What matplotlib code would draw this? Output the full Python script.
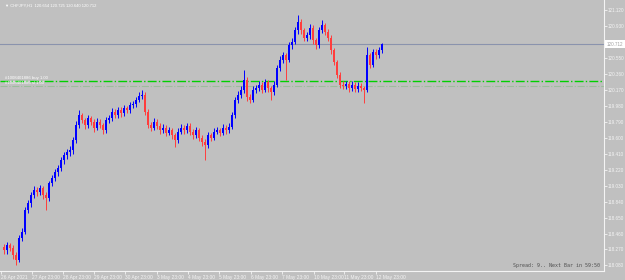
import matplotlib
matplotlib.use("Agg")
import matplotlib.pyplot as plt
import matplotlib.transforms as mtransforms

# chart header / status text
SYMBOL = "CHFJPY,H1"
HEADER_OHLC = "120.654 120.725 120.640 120.712"
STATUS = "Spread: 9.. Next Bar in 59:50"
ORDER_LABELS = ["#1008401886 buy 1.00", "#1008401886 sl 1.00"]
ORDER_LEVELS = [120.275, 120.215]
LAST_PRICE = 120.712

# candles (one per ~3 hours)
opens = [118.30, 118.26, 118.32, 118.29, 118.20, 118.15, 118.41, 118.48, 118.74, 118.82,
         118.92, 118.98, 118.95, 119.00, 118.92, 118.88, 119.06, 119.12, 119.19, 119.24,
         119.33, 119.39, 119.43, 119.45, 119.57, 119.75, 119.87, 119.81, 119.75, 119.83,
         119.79, 119.72, 119.79, 119.75, 119.69, 119.81, 119.83, 119.91, 119.87, 119.93,
         119.89, 119.95, 119.93, 119.99, 120.00, 120.05, 120.10, 120.11, 119.91, 119.75,
         119.72, 119.79, 119.74, 119.69, 119.72, 119.66, 119.69, 119.63, 119.57, 119.67,
         119.72, 119.69, 119.74, 119.67, 119.63, 119.69, 119.60, 119.55, 119.51, 119.63,
         119.60, 119.67, 119.69, 119.66, 119.72, 119.69, 119.73, 119.87, 120.05, 120.11,
         120.17, 120.29, 120.08, 120.05, 120.17, 120.19, 120.23, 120.17, 120.26, 120.19,
         120.14, 120.23, 120.43, 120.53, 120.58, 120.53, 120.70, 120.74, 120.88, 120.98,
         120.88, 120.79, 120.82, 120.91, 120.76, 120.70, 120.88, 120.94, 120.86, 120.79,
         120.64, 120.50, 120.35, 120.23, 120.22, 120.24, 120.19, 120.23, 120.18, 120.22,
         120.19, 120.17, 120.58, 120.47, 120.62, 120.58, 120.64]
closes = [118.26, 118.32, 118.29, 118.20, 118.15, 118.41, 118.48, 118.74, 118.82, 118.92,
          118.98, 118.95, 119.00, 118.92, 118.88, 119.06, 119.12, 119.19, 119.24, 119.33,
          119.39, 119.43, 119.45, 119.57, 119.75, 119.87, 119.81, 119.75, 119.83, 119.79,
          119.72, 119.79, 119.75, 119.69, 119.81, 119.83, 119.91, 119.87, 119.93, 119.89,
          119.95, 119.93, 119.99, 120.00, 120.05, 120.10, 120.11, 119.91, 119.75, 119.72,
          119.79, 119.74, 119.69, 119.72, 119.66, 119.69, 119.63, 119.57, 119.67, 119.72,
          119.69, 119.74, 119.67, 119.63, 119.69, 119.60, 119.55, 119.51, 119.63, 119.60,
          119.67, 119.69, 119.66, 119.72, 119.69, 119.73, 119.87, 120.05, 120.11, 120.17,
          120.29, 120.08, 120.05, 120.17, 120.19, 120.23, 120.17, 120.26, 120.19, 120.14,
          120.23, 120.43, 120.53, 120.58, 120.53, 120.70, 120.74, 120.88, 120.98, 120.88,
          120.79, 120.82, 120.91, 120.76, 120.70, 120.88, 120.94, 120.86, 120.79, 120.64,
          120.50, 120.35, 120.23, 120.22, 120.24, 120.19, 120.23, 120.18, 120.22, 120.19,
          120.17, 120.58, 120.47, 120.62, 120.58, 120.64, 120.712]
highs = [118.34, 118.36, 118.35, 118.32, 118.24, 118.44, 118.52, 118.77, 118.86, 118.95,
         119.03, 119.01, 119.04, 119.03, 118.95, 119.09, 119.16, 119.23, 119.28, 119.37,
         119.43, 119.47, 119.50, 119.61, 119.80, 119.93, 119.90, 119.84, 119.87, 119.86,
         119.82, 119.83, 119.82, 119.78, 119.85, 119.87, 119.95, 119.94, 119.97, 119.96,
         119.99, 119.98, 120.03, 120.04, 120.09, 120.14, 120.17, 120.14, 119.94, 119.79,
         119.83, 119.82, 119.77, 119.76, 119.75, 119.73, 119.72, 119.66, 119.71, 119.76,
         119.75, 119.78, 119.77, 119.70, 119.73, 119.72, 119.63, 119.58, 119.67, 119.66,
         119.71, 119.73, 119.72, 119.76, 119.75, 119.77, 119.91, 120.09, 120.16, 120.21,
         120.41, 120.32, 120.12, 120.21, 120.23, 120.27, 120.26, 120.30, 120.29, 120.22,
         120.27, 120.47, 120.57, 120.62, 120.61, 120.74, 120.79, 120.92, 121.06, 121.01,
         120.91, 120.86, 120.95, 120.94, 120.79, 120.92, 121.00, 120.97, 120.89, 120.82,
         120.67, 120.53, 120.38, 120.27, 120.28, 120.27, 120.27, 120.26, 120.26, 120.25,
         120.22, 120.68, 120.61, 120.66, 120.65, 120.68, 120.725]
lows = [118.22, 118.22, 118.25, 118.16, 118.08, 118.12, 118.37, 118.45, 118.70, 118.78,
        118.88, 118.91, 118.92, 118.87, 118.74, 118.85, 119.02, 119.09, 119.15, 119.20,
        119.29, 119.35, 119.38, 119.41, 119.54, 119.72, 119.77, 119.70, 119.72, 119.75,
        119.67, 119.69, 119.71, 119.64, 119.66, 119.78, 119.80, 119.83, 119.84, 119.85,
        119.86, 119.89, 119.90, 119.95, 119.97, 120.02, 120.06, 119.87, 119.71, 119.68,
        119.69, 119.70, 119.65, 119.66, 119.62, 119.63, 119.59, 119.49, 119.54, 119.64,
        119.65, 119.66, 119.63, 119.59, 119.60, 119.56, 119.50, 119.33, 119.48, 119.56,
        119.57, 119.64, 119.62, 119.63, 119.65, 119.66, 119.70, 119.84, 120.01, 120.07,
        120.13, 120.04, 120.01, 120.02, 120.13, 120.16, 120.13, 120.14, 120.15, 120.05,
        120.11, 120.20, 120.39, 120.49, 120.29, 120.50, 120.66, 120.71, 120.84, 120.84,
        120.75, 120.75, 120.78, 120.72, 120.66, 120.67, 120.85, 120.82, 120.75, 120.60,
        120.46, 120.31, 120.19, 120.18, 120.18, 120.15, 120.16, 120.14, 120.15, 120.16,
        120.01, 120.14, 120.43, 120.44, 120.54, 120.55, 120.61]

# price scale and time scale labels
price_ticks = [121.120, 120.930, 120.550, 120.360, 120.170, 119.980, 119.790, 119.600,
               119.410, 119.220, 119.030, 118.840, 118.650, 118.460, 118.270, 118.080]
day_labels = ["26 Apr 2021", "27 Apr 23:00", "28 Apr 23:00", "29 Apr 23:00", "30 Apr 23:00",
              "3 May 23:00", "4 May 23:00", "5 May 23:00", "6 May 23:00", "7 May 23:00",
              "10 May 23:00", "11 May 23:00", "12 May 23:00"]
day_bars = [-1.0, 9.2, 19.7, 30.0, 40.5, 51.0, 61.3, 71.8, 82.3, 92.7, 103.2, 113.5, 124.0]

BG = "#c0c0c0"
UP = "#0000ff"
DOWN = "#ff3d3d"
AXIS = "#f4f4f4"
plt.rcParams["font.family"] = ["Liberation Sans", "DejaVu Sans"]

fig = plt.figure(figsize=(6.25, 2.8), dpi=100, facecolor=BG)
ax = fig.add_axes([0, 9 / 280, 604 / 625, 271 / 280])
ax.set_facecolor(BG)

idx = list(range(len(closes)))
colors = [UP if c >= o else DOWN for o, c in zip(opens, closes)]
ax.vlines(idx, lows, highs, colors=colors, linewidth=0.7, zorder=3)
bottoms = [min(o, c) for o, c in zip(opens, closes)]
heights = [max(abs(c - o), 0.006) for o, c in zip(opens, closes)]
ax.bar(idx, heights, bottom=bottoms, width=0.75, color=colors, linewidth=0, zorder=3)

# last price line and order levels
ax.axhline(LAST_PRICE, color="#8a93ad", linewidth=0.8, zorder=2)
ax.axhline(ORDER_LEVELS[0], color="#00d000", linewidth=1.0, linestyle="-.", zorder=2)
ax.axhline(ORDER_LEVELS[1], color="#9cbc9c", linewidth=0.8, linestyle="-.", zorder=2)
ax.text(0.5, ORDER_LEVELS[0] + 0.012, ORDER_LABELS[0], color="white", fontsize=3.1,
        va="bottom", ha="left", zorder=4)
ax.text(0.5, ORDER_LEVELS[1] + 0.010, ORDER_LABELS[1], color="white", fontsize=3.1,
        va="bottom", ha="left", zorder=4)

ax.set_xlim(-4 / 3, 200)
ax.set_ylim(118.014, 121.239)

for side in ["left", "top"]:
    ax.spines[side].set_visible(False)
for side in ["right", "bottom"]:
    ax.spines[side].set_color(AXIS)
    ax.spines[side].set_linewidth(0.8)

ax.yaxis.tick_right()
ax.set_yticks(price_ticks)
ax.set_yticklabels([f"{p:.3f}" for p in price_ticks])
ax.tick_params(axis="y", colors=AXIS, labelcolor=AXIS, labelsize=3.3, length=2, width=0.6, pad=1.0)

ax.set_xticks(day_bars)
ax.set_xticklabels(day_labels)
for lbl in ax.get_xticklabels():
    lbl.set_horizontalalignment("left")
ax.tick_params(axis="x", colors=AXIS, labelcolor=AXIS, labelsize=3.5, length=2, width=0.6, pad=1)

# current price tag on the price scale
tag = mtransforms.blended_transform_factory(ax.transAxes, ax.transData)
ax.text(1.004, LAST_PRICE, f"{LAST_PRICE:.3f}", transform=tag, fontsize=3.3, color="#a0a0a0",
        va="center", ha="left", zorder=5, clip_on=False,
        bbox=dict(boxstyle="square,pad=0.35", facecolor="white", edgecolor="none"))

# header and status
ax.text(0.008, 0.988, "\u25bc " + SYMBOL + "  " + HEADER_OHLC, transform=ax.transAxes,
        fontsize=3.0, color="white", va="top", ha="left")
ax.text(0.994, 0.012, STATUS, transform=ax.transAxes, fontsize=3.6, color="#505050",
        family="DejaVu Sans Mono", va="bottom", ha="right")

fig.savefig("out.png", dpi=100, facecolor=BG)
